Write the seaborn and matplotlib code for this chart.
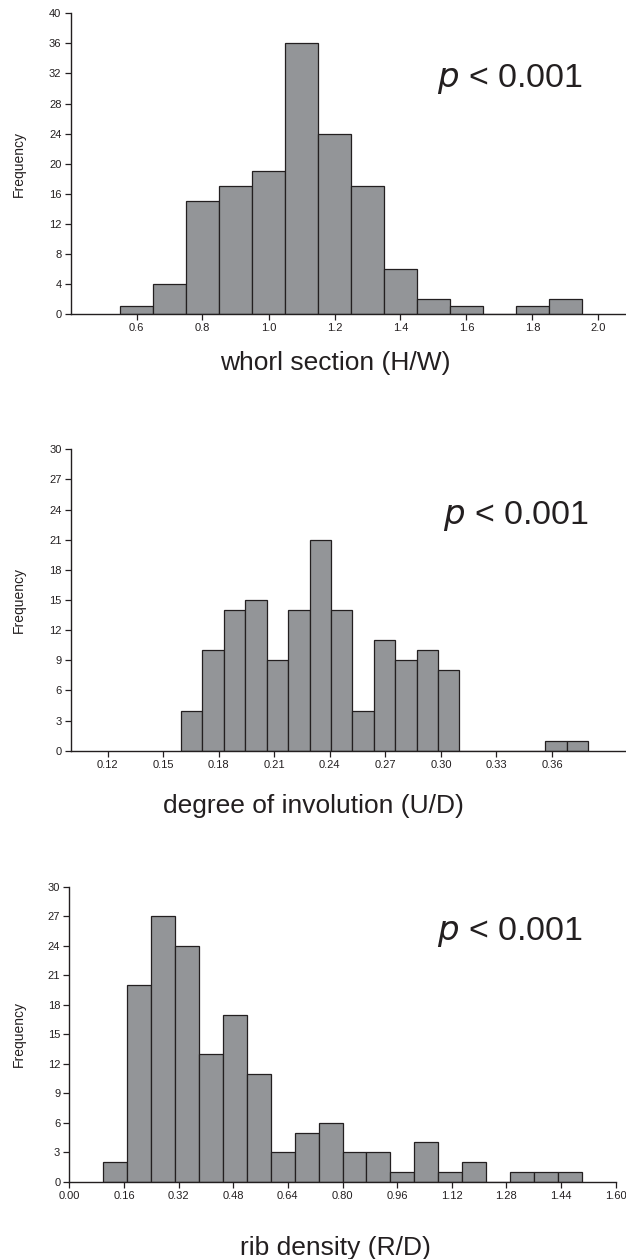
import numpy as np
import pandas as pd
import matplotlib
matplotlib.use("Agg")
import matplotlib.pyplot as plt
import seaborn as sns

# panel 1: whorl section (H/W)
whorl_start = 0.55
whorl_width = 0.10
whorl_counts = [1, 4, 15, 17, 19, 36, 24, 17, 6, 2, 1, 0, 1, 2]
whorl_xticks = [0.6, 0.8, 1.0, 1.2, 1.4, 1.6, 1.8, 2.0]
whorl_xlabels = ["0.6", "0.8", "1.0", "1.2", "1.4", "1.6", "1.8", "2.0"]
whorl_yticks = [0, 4, 8, 12, 16, 20, 24, 28, 32, 36, 40]

# panel 2: degree of involution (U/D)
invol_start = 0.1596
invol_width = 0.01157
invol_counts = [4, 10, 14, 15, 9, 14, 21, 14, 4, 11, 9, 10, 8, 0, 0, 0, 0, 1, 1]
invol_xticks = [0.12, 0.15, 0.18, 0.21, 0.24, 0.27, 0.30, 0.33, 0.36]
invol_xlabels = ["0.12", "0.15", "0.18", "0.21", "0.24", "0.27", "0.30", "0.33", "0.36"]
invol_yticks = [0, 3, 6, 9, 12, 15, 18, 21, 24, 27, 30]

# panel 3: rib density (R/D)
rib_start = 0.10
rib_width = 0.07
rib_counts = [2, 20, 27, 24, 13, 17, 11, 3, 5, 6, 3, 3, 1, 4, 1, 2, 0, 1, 1, 1]
rib_xticks = [0.00, 0.16, 0.32, 0.48, 0.64, 0.80, 0.96, 1.12, 1.28, 1.44, 1.60]
rib_xlabels = ["0.00", "0.16", "0.32", "0.48", "0.64", "0.80", "0.96", "1.12", "1.28", "1.44", "1.60"]
rib_yticks = [0, 3, 6, 9, 12, 15, 18, 21, 24, 27, 30]

sns.set_style("ticks")
plt.rcParams['font.family'] = ['Liberation Sans', 'DejaVu Sans']

W, H = 626, 1259
fig = plt.figure(figsize=(W / 100, H / 100), dpi=100)

DARK = "#231f20"
BAR = "#939598"

panels = [
    dict(box=(70.5, 626, 13.3, 314), xlim=(0.4, 0.4 + 555.5 / 330), start=whorl_start, width=whorl_width,
         counts=whorl_counts, xticks=whorl_xticks, xlabels=whorl_xlabels, yticks=whorl_yticks,
         ptxt=(437, 87), label="whorl section (H/W)", lab=(335, 370)),
    dict(box=(70.7, 626, 449.3, 750.7), xlim=(0.10, 0.40), start=invol_start, width=invol_width,
         counts=invol_counts, xticks=invol_xticks, xlabels=invol_xlabels, yticks=invol_yticks,
         ptxt=(443, 524), label="degree of involution (U/D)", lab=(313, 813)),
    dict(box=(69.3, 615.7, 886.7, 1181.7), xlim=(0.0, 1.6), start=rib_start, width=rib_width,
         counts=rib_counts, xticks=rib_xticks, xlabels=rib_xlabels, yticks=rib_yticks,
         ptxt=(437, 940), label="rib density (R/D)", lab=(335, 1255.5)),
]

for p in panels:
    l, r, t, b = p["box"]
    ax = fig.add_axes([l / W, 1 - b / H, (r - l) / W, (b - t) / H])
    n = len(p["counts"])
    lo, w = p["start"], p["width"]
    df = pd.DataFrame({"value": lo + w * (np.arange(n) + 0.5), "count": p["counts"]})
    sns.histplot(data=df, x="value", weights="count", bins=n, binrange=(lo, lo + n * w),
                 color=BAR, edgecolor=DARK, linewidth=0.9, alpha=1, ax=ax)
    ax.set_xlim(*p["xlim"])
    ax.set_ylim(p["yticks"][0], p["yticks"][-1])
    ax.set_xticks(p["xticks"])
    ax.set_xticklabels(p["xlabels"])
    ax.set_yticks(p["yticks"])
    ax.tick_params(axis="both", direction="out", length=4, width=0.9, color=DARK,
                   labelsize=8, labelcolor=DARK, pad=2.5)
    sns.despine(ax=ax)
    for s in ["left", "bottom"]:
        ax.spines[s].set_color(DARK)
        ax.spines[s].set_linewidth(1.0)
    ax.set_xlabel("")
    ax.set_ylabel("Frequency", fontsize=10, color=DARK)
    ax.yaxis.set_label_coords((25.5 - l) / (r - l), 0.5)
    # p-value annotation
    tx, ty = p["ptxt"]
    fig.text(tx / W, 1 - ty / H, r"$\it{p}$ < 0.001", fontsize=24.5, color=DARK,
             ha="left", va="baseline")
    lx, ly = p["lab"]
    fig.text(lx / W, 1 - ly / H, p["label"], fontsize=19, color=DARK, ha="center", va="baseline")

fig.savefig("out.png", dpi=100)
